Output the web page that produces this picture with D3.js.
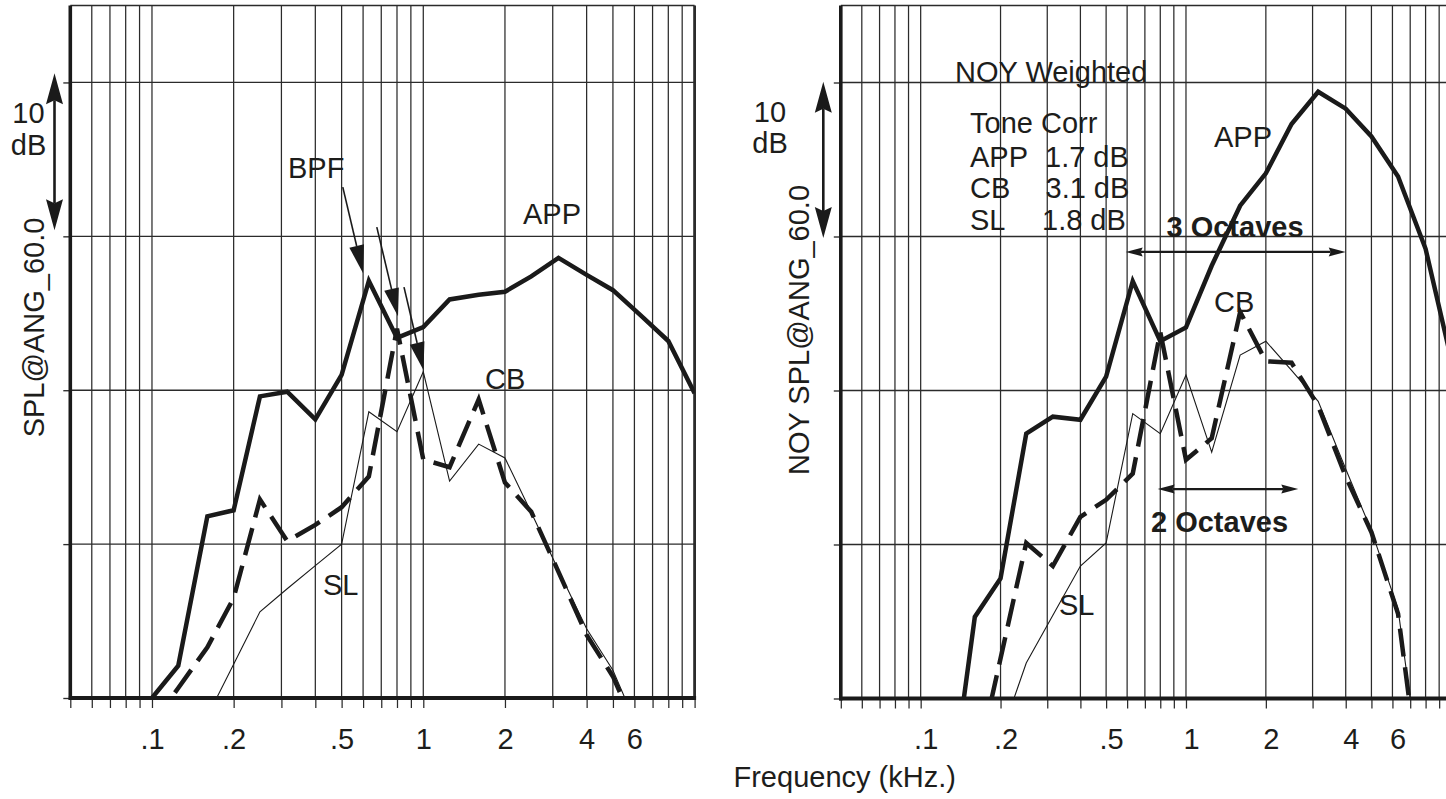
<!DOCTYPE html>
<html><head><meta charset="utf-8">
<script src="https://cdn.jsdelivr.net/npm/d3@7"></script>
<style>
body{margin:0;background:#fff}
svg{display:block}
text{font-family:"Liberation Sans",Arial,Helvetica,sans-serif;fill:#1d1d1b}
</style>
</head><body>
<svg id="c" width="1446" height="799"></svg>
<script>
// 1/3-octave band centre frequencies (kHz)
const bands = [0.1,0.125,0.16,0.2,0.25,0.315,0.4,0.5,0.63,0.8,1,1.25,1.6,2,2.5,3.15,4,5,6.3,8,10];

// Left panel: SPL (dB, relative to baseline)
const appLeft = [0,2.1,11.8,12.2,19.6,19.9,18.1,21.0,27.1,23.4,24.1,25.9,26.2,26.4,27.4,28.6,27.5,26.5,24.9,23.2,19.8];
const cbLeft  = [-1.7,0.65,3.3,6.5,12.9,10.2,11.25,12.4,14.4,24.0,15.5,15.0,19.4,14.0,12.1,8.2,4.1,1.4,-2.6,-10,-15];
const slLeft  = [-8.4,-5.0,-1.2,2.2,5.6,7.1,8.6,10.0,18.6,17.3,21.2,14.1,16.5,15.6,12.05,8.3,4.5,1.8,-2.3,-10,-15];

// Right panel: NOY weighted SPL
const appRight = [-20,-8.4,5.3,7.8,17.2,18.3,18.1,20.9,27.1,23.2,24.1,28.1,32.0,34.1,37.3,39.4,38.3,36.5,33.9,29.2,22.0];
const cbRight  = [-20,-12,-4.9,2.6,10.1,8.6,11.8,12.9,14.6,23.8,15.5,16.9,25.1,21.9,21.8,19.0,14.4,10.8,5.5,-8.3,-20];
const slRight  = [-30,-20,-7.3,-2.5,2.3,5.4,8.6,10.1,18.5,17.2,21.0,16.0,22.3,23.2,21.3,19.3,14.9,10.9,5.8,-7.4,-20];

// Axis ticks / labels
const xGridTicks = [0.05,0.06,0.07,0.08,0.09,0.1,0.2,0.3,0.4,0.5,0.6,0.7,0.8,0.9,1,2,3,4,5,6,7,8,9,10];
const xLabelValues = [0.1,0.2,0.5,1,2,4,6];
const xLabelTexts = [".1",".2",".5","1","2","4","6"];
const yTicks = [0,10,20,30,40];
const yDomain = [0,45];
const xDomain = [0.05,10];

// Annotation arrows (frequency kHz, dB)
const bpfArrows = [
  {from:[0.505,33.2], to:[0.600,27.6]},
  {from:[0.674,30.6], to:[0.807,24.8]},
  {from:[0.849,26.7], to:[1.002,21.3]}
];
const octaveArrows = [
  {f0:0.5925, f1:4.0, v:29.0},
  {f0:0.782, f1:2.65, v:13.6}
];

const svg = d3.select("#c");
const ink = "#1a1a1a";
const gridCol = "#2b2b2b";

const panels = [
  {x0:70.3, x1:694.6, yb:698, yt:5.5, app:appLeft, cb:cbLeft, sl:slLeft,
   title:"SPL@ANG_60.0", titleX:43.5, titleY:327.5,
   tenX:54.5, tenLabelX:28.5, tenY:[123.3,155], tenArrow:[40.6,30.4], labelDx:0, rightBorder:true},
  {x0:840.8, x1:1451.3, yb:698.5, yt:5.5, app:appRight, cb:cbRight, sl:slRight,
   title:"NOY SPL@ANG_60.0", titleX:808.5, titleY:330,
   tenX:823.3, tenLabelX:770, tenY:[121.7,153.3], tenArrow:[40.05,29.9], labelDx:5, rightBorder:false}
];

function head(g, x1,y1,x2,y2,L,W,notch){
  const len=Math.hypot(x2-x1,y2-y1), ux=(x2-x1)/len, uy=(y2-y1)/len;
  const nx=-uy, ny=ux;
  const bx=x2-L*ux, by=y2-L*uy;
  const pts=[[x2,y2],[bx+W*nx,by+W*ny],[x2-(L-notch)*ux,y2-(L-notch)*uy],[bx-W*nx,by-W*ny]];
  g.append("polygon").attr("points",pts.map(p=>p.join(",")).join(" ")).attr("fill",ink);
  return [x2-(L-notch)*ux, y2-(L-notch)*uy];
}
function arrow(g,x1,y1,x2,y2,opt){
  const e = head(g,x1,y1,x2,y2,opt.L,opt.W,opt.notch||0);
  let s=[x1,y1];
  if(opt.both){ s = head(g,x2,y2,x1,y1,opt.L,opt.W,opt.notch||0); }
  g.append("line").attr("x1",s[0]).attr("y1",s[1]).attr("x2",e[0]).attr("y2",e[1])
   .attr("stroke",ink).attr("stroke-width",opt.sw);
}

panels.forEach((p,i)=>{
  const x = d3.scaleLog().domain(xDomain).range([p.x0,p.x1]);
  const y = d3.scaleLinear().domain(yDomain).range([p.yb,p.yt]);
  const g = svg.append("g");

  // grid
  const grid = g.append("g");
  grid.selectAll("line.v").data(xGridTicks.slice(1)).join("line")
    .attr("x1",d=>x(d)).attr("x2",d=>x(d)).attr("y1",y(45)).attr("y2",y(0))
    .attr("stroke",gridCol).attr("stroke-width",(d)=> (d===10 && p.rightBorder)?2.8:1.25);
  grid.selectAll("line.h").data([10,20,30,40,45]).join("line")
    .attr("x1",p.x0).attr("x2",p.x1).attr("y1",d=>y(d)).attr("y2",d=>y(d))
    .attr("stroke",gridCol).attr("stroke-width",1.35);

  // clip
  const cid="clip"+i;
  svg.append("clipPath").attr("id",cid).append("rect")
    .attr("x",p.x0).attr("y",y(45)).attr("width",p.x1-p.x0).attr("height",y(0)-y(45));

  const line = d3.line().x((d,j)=>x(bands[j])).y(d=>y(d));
  const series = g.append("g").attr("clip-path",`url(#${cid})`);
  series.append("path").datum(p.sl).attr("d",line).attr("fill","none")
    .attr("stroke",ink).attr("stroke-width",1.1).attr("stroke-linejoin","miter");
  series.append("path").datum(p.cb).attr("d",line).attr("fill","none")
    .attr("stroke",ink).attr("stroke-width",4.5).attr("stroke-dasharray","28,11").attr("stroke-linejoin","miter");
  series.append("path").datum(p.app).attr("d",line).attr("fill","none")
    .attr("stroke",ink).attr("stroke-width",4.5).attr("stroke-linejoin","miter");

  // x axis
  const labelMap = new Map(xLabelValues.map((v,k)=>[v,xLabelTexts[k]]));
  const xa = g.append("g").attr("transform",`translate(0,${y(0)})`)
    .call(d3.axisBottom(x).tickValues(xGridTicks).tickSize(10).tickFormat(d=>labelMap.get(d)||""));
  xa.select(".domain").remove();
  xa.selectAll(".tick line").attr("stroke",gridCol).attr("stroke-width",1.25);
  xa.selectAll(".tick text").attr("y",50.5).attr("dy",null).attr("dx",p.labelDx)
    .style("font-size","29px").attr("fill",ink);

  // y axis
  const ya = g.append("g").attr("transform",`translate(${p.x0},0)`)
    .call(d3.axisLeft(y).tickValues(yTicks).tickSize(7).tickFormat(""));
  ya.select(".domain").remove();
  ya.selectAll(".tick line").attr("stroke",gridCol).attr("stroke-width",1.35);

  // thick frame lines
  g.append("line").attr("x1",p.x0).attr("x2",p.x0).attr("y1",y(45)).attr("y2",y(0)+2)
    .attr("stroke",ink).attr("stroke-width",3.6);
  g.append("line").attr("x1",p.x0-1.5).attr("x2",p.x1+1.5).attr("y1",y(0)).attr("y2",y(0))
    .attr("stroke",ink).attr("stroke-width",4);

  // axis title
  g.append("text").attr("transform",`translate(${p.titleX},${p.titleY}) rotate(-90)`)
    .attr("text-anchor","middle").style("font-size","29px").text(p.title);

  // 10 dB marker
  g.append("text").attr("x",p.tenLabelX).attr("y",p.tenY[0]).attr("text-anchor","middle").style("font-size","29px").text("10");
  g.append("text").attr("x",p.tenLabelX).attr("y",p.tenY[1]).attr("text-anchor","middle").style("font-size","29px").text("dB");
  arrow(g,p.tenX,y(p.tenArrow[1]),p.tenX,y(p.tenArrow[0]),{L:31,W:8.5,notch:4,sw:2.6,both:true});

  p.x=x; p.y=y; p.g=g;
});

// Left panel annotations
(function(){
  const p=panels[0], g=p.g, x=p.x, y=p.y;
  bpfArrows.forEach(a=>arrow(g,x(a.from[0]),y(a.from[1]),x(a.to[0]),y(a.to[1]),{L:28,W:7.5,notch:0,sw:1.6}));
  const t=[["BPF",288,178.3],["APP",523,224],["CB",485,389.3],["SL",323,595]];
  t.forEach(d=>g.append("text").attr("x",d[1]).attr("y",d[2]).style("font-size","29px").text(d[0]));
})();

// Right panel annotations
(function(){
  const p=panels[1], g=p.g, x=p.x, y=p.y;
  const t=[["NOY Weighted",955,81.7],["Tone Corr",970,133.3],["APP",970,166.7],["CB",970,198.3],["SL",970,230],
           ["1.7 dB",1045,166.7],["3.1 dB",1045.5,198.3],["1.8 dB",1042,230],
           ["APP",1214,146.7],["CB",1214,311.7],["SL",1059,615]];
  t.forEach(d=>g.append("text").attr("x",d[1]).attr("y",d[2]).style("font-size","29px").text(d[0]));
  octaveArrows.forEach(a=>arrow(g,x(a.f0),y(a.v),x(a.f1),y(a.v),{L:17,W:4.5,notch:2,sw:2.2,both:true}));
  g.append("text").attr("x",1166.5).attr("y",237).style("font-size","29px").style("font-weight","bold").text("3 Octaves");
  g.append("text").attr("x",1151).attr("y",531.7).style("font-size","29px").style("font-weight","bold").text("2 Octaves");
})();

// shared x-axis title
svg.append("text").attr("x",733.5).attr("y",786.7).style("font-size","29px").text("Frequency (kHz.)");
</script>
</body></html>
